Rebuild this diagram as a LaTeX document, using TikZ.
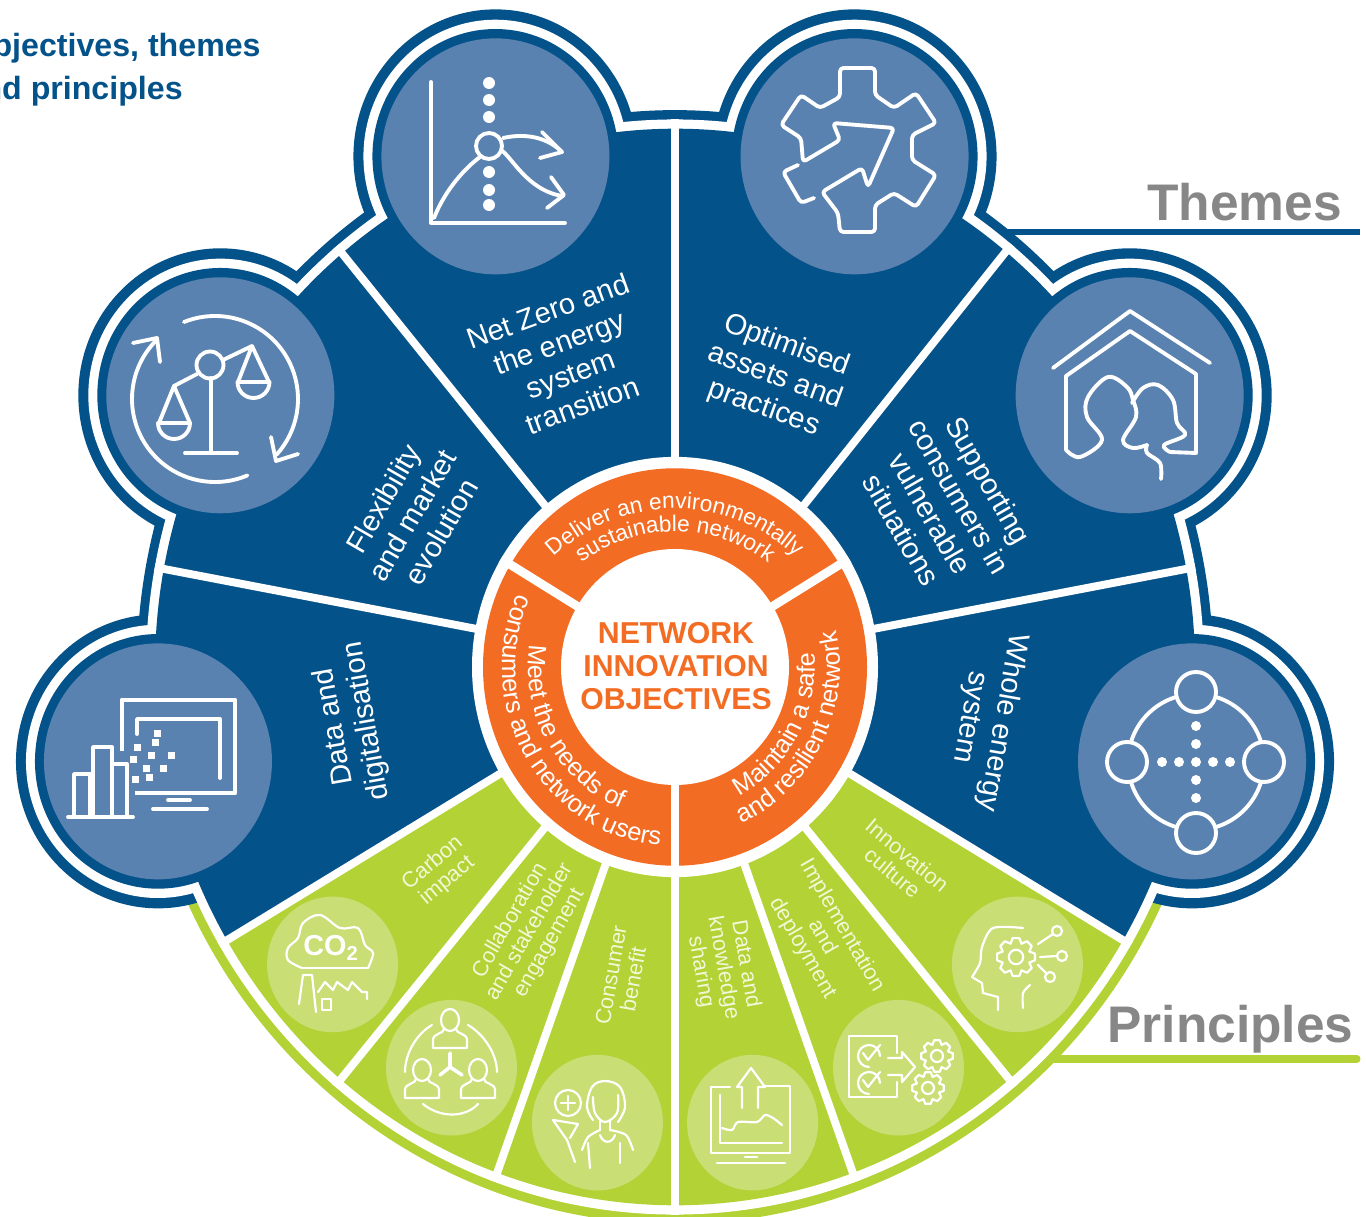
\documentclass[tikz,border=0pt]{standalone}
\usepackage{fontspec}
\setmainfont{Liberation Sans}
\usetikzlibrary{decorations.text}
\definecolor{netblue}{HTML}{04528A}
\definecolor{iconblue}{HTML}{5A82B0}
\definecolor{netorange}{HTML}{F36C24}
\definecolor{leafgreen}{HTML}{B2D235}
\definecolor{paleleaf}{HTML}{C9DE75}
\definecolor{labelgrey}{HTML}{878787}
\definecolor{leaftext}{HTML}{F2F7D6}
\newcommand{\curvedfont}{\fontsize{12.9}{15}\selectfont\color{white}}
\newcommand{\sidefont}{\fontsize{14.4}{16}\selectfont\color{white}}
\tikzset{
    themetext/.style={text=white,align=center,font=\fontsize{16.6}{19}\selectfont},
    leaflabel/.style={text=leaftext,align=center,font=\fontsize{12.4}{12.9}\selectfont},
    sidelabel/.style={text=labelgrey,inner sep=0pt,font=\bfseries\fontsize{29.3}{32}\selectfont,anchor=base west},
    titletext/.style={text=netblue,inner sep=0pt,font=\bfseries\fontsize{18.3}{22}\selectfont,anchor=base east},
    iconline/.style={draw=white,line width=2.2pt,line cap=round,line join=round},
    leafline/.style={draw=white,line width=1.25pt,line cap=round,line join=round},
    cogwheel/.pic={
        \foreach \a in {0,45,...,315}{
            \draw[leafline] (\a-22.5:12) -- (\a-10:16) -- (\a+10:16) -- (\a+22.5:12);
        }
        \draw[leafline] (0,0) circle[radius=6];
    },
    bust/.pic={
        \draw[leafline] (0,0) ellipse[x radius=9,y radius=11];
        \draw[leafline] (-6,9) .. controls (-6,14) and (-17,13) .. (-17,20) -- (-17,28) -- (17,28) -- (17,20) .. controls (17,13) and (6,14) .. (6,9);
    }
}
\begin{document}
\begin{tikzpicture}[x=0.02cm,y=-0.02cm]
    \useasboundingbox (0,0) rectangle (1366,1217);

    % titles and leaders
    \node[titletext] (titleone) at (261,56) {objectives, themes};
    \node[titletext] (titletwo) at (183,99) {and principles};
    \node[sidelabel] (themes) at (1147,220) {Themes};
    \node[sidelabel] (principles) at (1107,1042) {Principles};
    \coordinate (themesstart) at (1005,232);
    \coordinate (themesend) at (1360,232);
    \coordinate (principlesstart) at (1050,1059);
    \coordinate (principlesend) at (1357,1059);
    \draw[netblue,line width=3pt] (themesstart) -- (themesend);
    \draw[leafgreen,line width=4pt,line cap=round] (principlesstart) -- (principlesend);

    % the wheel, drawn from the centre
    \begin{scope}[shift={(675,667)},x=0.02cm,y=0.0207cm]
        \fill[leafgreen] (0,0) -- (190:538) arc[start angle=190,end angle=350,radius=538] -- cycle;
        \fill[netblue] (0,0) -- (-10:538) arc[start angle=-10,end angle=190,radius=538] -- cycle;
        \foreach \a in {-10,30,70,110,150,190} \fill[netblue] (\a:525) circle[radius=142];
        \fill[white] (0,0) circle[radius=529];
        \foreach \a in {-10,30,70,110,150,190} \fill[white] (\a:525) circle[radius=132];
        \fill[leafgreen] (0,0) -- (210.5:520) arc[start angle=210.5,end angle=329.5,radius=520] -- cycle;
        \fill[netblue] (0,0) -- (-30.5:520) arc[start angle=-30.5,end angle=210.5,radius=520] -- cycle;
        \foreach \a in {-10,30,70,110,150,190} \fill[netblue] (\a:525) circle[radius=123];
        \foreach \a in {-30.5,10.5,50.5,90,129.8,169.5,210.5,230,250,270,290,310}
            \draw[white,line width=4.5pt] (0,0) -- (\a:529);
        \foreach \a in {-10,30,70,110,150,190} \fill[iconblue] (\a:525) circle[radius=114];
        \foreach \a in {220,240,260,280,300,320} \fill[paleleaf] (\a:447) circle[radius=65.5];
        \fill[white] (0,0) circle[radius=203];
        \fill[netorange] (0,0) circle[radius=192];
        \foreach \a in {31,149,270} \draw[white,line width=5pt] (0,0) -- (\a:203);
        \fill[white] (0,0) circle[radius=114];
        \path[decorate,decoration={text along path,text align=center,text={|\curvedfont|Deliver an environmentally}}]
            ([shift={(0,-27)}]140:180) arc[start angle=140,end angle=40,radius=180];
        \path[decorate,decoration={text along path,text align=center,text={|\curvedfont|sustainable network}}]
            ([shift={(0,-27)}]140:158) arc[start angle=140,end angle=40,radius=158];
        \path[decorate,decoration={text along path,text align=center,text={|\sidefont|consumers and network users}}]
            (150:173) arc[start angle=150,end angle=271,radius=173];
        \path[decorate,decoration={text along path,text align=center,text={|\sidefont|Meet the needs of}}]
            (165:147) arc[start angle=165,end angle=255,radius=147];
        \path[decorate,decoration={text along path,text align=center,text={|\sidefont|and resilient network}}]
            (-72:165) arc[start angle=-72,end angle=18,radius=165];
        \path[decorate,decoration={text along path,text align=center,text={|\sidefont|Maintain a safe}}]
            (-70:140) arc[start angle=-70,end angle=13,radius=140];
    \end{scope}

    \node[text=netorange,align=center,font=\bfseries\fontsize{17.2}{19}\selectfont] (hub) at (676,666) {NETWORK\\INNOVATION\\OBJECTIVES};

    % themes
    \node[themetext,rotate=20] (netzero) at (565,358) {Net Zero and\\the energy\\system\\transition};
    \node[themetext,rotate=-20] (optimised) at (775,377) {Optimised\\assets and\\practices};
    \node[themetext,rotate=-60] (supporting) at (945,505) {Supporting\\consumers in\\vulnerable\\situations};
    \node[themetext,rotate=60] (flexibility) at (412,515) {Flexibility\\and market\\evolution};
    \node[themetext,rotate=100] (digital) at (351,724) {Data and\\digitalisation};
    \node[themetext,rotate=-100] (whole) at (986,720) {Whole energy\\system};

    % principles
    \node[leaflabel,rotate=40] (carbon) at (440,872) {Carbon\\impact};
    \node[leaflabel,rotate=60] (collab) at (530,932) {Collaboration\\and stakeholder\\engagement};
    \node[leaflabel,rotate=80] (consumer) at (622,977) {Consumer\\benefit};
    \node[leaflabel,rotate=-80] (knowledge) at (723,968) {Data and\\knowledge\\sharing};
    \node[leaflabel,rotate=-60] (deploy) at (822,937) {Implementation\\and\\deployment};
    \node[leaflabel,rotate=-40] (culture) at (900,864) {Innovation\\culture};

    % net zero icon
    \draw[iconline] (431,82) -- (431,223) -- (565,223);
    \foreach \y in {83,100,117,172,190,205} \fill[white] (489,\y) circle[radius=6];
    \draw[iconline] (489,146) circle[radius=13];
    \draw[iconline] (434,218) .. controls (445,190) and (465,168) .. (480,157);
    \draw[iconline] (503,138) .. controls (530,132) and (550,140) .. (562,152);
    \draw[iconline] (542,132) -- (562,152) -- (540,158);
    \draw[iconline] (501,150) .. controls (512,157) and (527,190) .. (562,196);
    \draw[iconline] (551,177) -- (564,195) -- (547,208);

    % optimised icon
    \draw[iconline,rounded corners=2] (840,68) -- (875,68) -- (875,95) -- (894,108) -- (916,93) -- (936,123) -- (912,135) -- (912,160) -- (936,175) -- (916,207) -- (894,193) -- (875,205) -- (875,232) -- (840,232) -- (838,213) -- (822,192) -- (862,168) -- (868,187) -- (894,128) -- (833,123) -- (840,140) -- (803,162) -- (801,138) -- (781,125) -- (801,95) -- (820,108) -- (840,97) -- cycle;
    \draw[iconline,rounded corners=2] (798,165) -- (783,172) -- (801,203) -- (814,198);

    % supporting icon
    \draw[iconline] (1053,368) -- (1130,311) -- (1210,363);
    \draw[iconline] (1066,450) -- (1066,376) -- (1130,331) -- (1196,374) -- (1196,453) -- (1170,452);
    \draw[iconline] plot[smooth,tension=.6] coordinates {(1066,450) (1080,457) (1102,440) (1087,417) (1088,397) (1108,377) (1127,387) (1133,400) (1136,417) (1123,440) (1133,448) (1147,445)};
    \draw[iconline] plot[smooth,tension=.6] coordinates {(1147,445) (1147,453) (1160,463) (1161,479)};
    \draw[iconline] plot[smooth,tension=.6] coordinates {(1132,403) (1143,388) (1158,385) (1173,400) (1177,423) (1185,435) (1164,445) (1170,452)};

    % flexibility icon
    \draw[iconline] (215,399) ++(-112:83) arc[start angle=-112,end angle=42,radius=83];
    \draw[iconline] (215,399) ++(-134.5:83) arc[start angle=-134.5,end angle=-293,radius=83];
    \draw[iconline] (133,343) -- (157,338) -- (160,362);
    \draw[iconline] (271,437) -- (276,461) -- (298,454);
    \draw[iconline] (210,365) circle[radius=13.5];
    \draw[iconline] (210.7,378) -- (210.7,452);
    \draw[iconline] (185,453) -- (237,453);
    \draw[iconline] (197,374) -- (174,386) -- (159,423);
    \draw[iconline] (174,386) -- (190,423);
    \draw[iconline] (223,360) -- (252,346) -- (238,382);
    \draw[iconline] (252,346) -- (269,382);
    \draw[iconline] (158,423) arc[start angle=-180,end angle=-360,radius=16] -- cycle;
    \draw[iconline] (237.5,382) arc[start angle=-180,end angle=-360,radius=16] -- cycle;

    % digitalisation icon
    \draw[iconline,line width=2.8pt,line cap=butt] (122,751) -- (122,700) -- (235,700) -- (235,793) -- (135,793);
    \draw[iconline] (220,778) -- (220,719) -- (137,719) -- (137,734);
    \draw[iconline] (168,800) -- (190,800);
    \draw[iconline] (153,809) -- (207,809);
    \draw[iconline] (68,817) -- (133,817);
    \draw[iconline] (74,817) -- (74,774) -- (90,774) -- (90,817);
    \draw[iconline] (93,817) -- (93,747) -- (112,747) -- (112,817);
    \draw[iconline] (112,764) -- (127,764) -- (127,817);
    \foreach \x/\y in {157/733,155/742,137/747,151/755,171/755,133/759,146/768,163/768,135/779,149/777}
        \fill[white] (\x-3.5,\y-3.5) rectangle (\x+3.5,\y+3.5);

    % whole energy icon
    \draw[iconline] (1196,762) circle[radius=68];
    \foreach \x/\y in {1196/692,1196/833,1127/762,1264/762}
        \filldraw[iconline,fill=iconblue] (\x,\y) circle[radius=20];
    \foreach \d in {-34,-17,17,34} \fill[white] (1196+\d,762) circle[radius=5];
    \foreach \d in {-36,-18,0,18,36} \fill[white] (1196,762+\d) circle[radius=5];

    % carbon icon
    \draw[leafline] plot[smooth,tension=.6] coordinates {(302,968) (288,960) (288,948) (298,938) (303,923) (320,915) (340,928) (358,928) (365,945) (373,953) (368,968)};
    \draw[leafline] (302,968) -- (368,968);
    \node[text=white,font=\bfseries\fontsize{16.4}{18}\selectfont] (cotwo) at (331,948) {CO\textsubscript{2}};
    \draw[leafline] (299,1004) -- (303,975) -- (312,975) -- (316,1012);
    \draw[leafline] (318,992) -- (325,982) -- (333,990) -- (337,982) -- (348,990) -- (352,982) -- (362,992) -- (367,992) -- (367,999);
    \draw[leafline] (322,999) rectangle (331,1010);

    % collaboration icon
    \pic at (450,1020) {bust};
    \pic at (422,1070) {bust};
    \pic at (478,1070) {bust};
    \draw[leafline] (432,1025) .. controls (415,1035) and (405,1055) .. (405,1072);
    \draw[leafline] (468,1025) .. controls (485,1035) and (497,1055) .. (497,1072);
    \draw[leafline] (423,1104) .. controls (440,1118) and (465,1118) .. (478,1104);
    \draw[leafline,line width=2pt] (450,1053) -- (450,1067) -- (440,1075);
    \draw[leafline,line width=2pt] (450,1067) -- (462,1075);

    % consumer icon
    \draw[leafline] (568,1103) circle[radius=13];
    \draw[leafline] (561,1103) -- (575,1103);
    \draw[leafline] (568,1096) -- (568,1110);
    \draw[leafline] plot[smooth,tension=.6] coordinates {(593,1120) (587,1107) (592,1087) (605,1081) (620,1087) (625,1107) (618,1122)};
    \draw[leafline] plot[smooth,tension=.6] coordinates {(593,1097) (595,1113) (605,1122) (617,1113) (618,1095)};
    \draw[leafline] (600,1121) -- (600,1130);
    \draw[leafline] (610,1121) -- (610,1130);
    \draw[leafline] plot[smooth] coordinates {(582,1150) (588,1137) (600,1130)};
    \draw[leafline] plot[smooth] coordinates {(610,1130) (626,1135) (633,1150)};
    \draw[leafline] (600,1135) .. controls (603,1144) and (612,1144) .. (615,1135);
    \draw[leafline] (588,1143) -- (590,1168);
    \draw[leafline] (620,1143) -- (620,1163);
    \draw[leafline] (553,1120) -- (567,1140) -- (575,1162);
    \draw[leafline] (553,1120) -- (578,1124) -- (570,1138);

    % knowledge icon
    \draw[leafline] (730,1087) -- (711,1087) -- (711,1153) -- (790,1153) -- (790,1086) -- (765,1086);
    \draw[leafline] (742,1108) -- (742,1087) -- (737,1087) -- (751,1068) -- (765,1087) -- (758,1087) -- (758,1108);
    \draw[leafline] (720,1095) -- (720,1143) -- (782,1143);
    \draw[leafline] plot[smooth,tension=.5] coordinates {(722,1128) (732,1130) (738,1122) (757,1122) (765,1115) (773,1118) (782,1125)};
    \draw[leafline] (717,1163) -- (785,1163);
    \draw[leafline] (745,1157) -- (757,1157);

    % deployment icon
    \draw[leafline] (897,1053) -- (897,1036) -- (849,1036) -- (849,1097) -- (897,1097) -- (897,1082);
    \draw[leafline] (888,1058) -- (902,1058) -- (902,1052) -- (915,1067) -- (902,1082) -- (902,1075) -- (888,1075);
    \draw[leafline] (880,1056) arc[start angle=0,end angle=-270,radius=11];
    \draw[leafline] (880,1083) arc[start angle=0,end angle=-270,radius=11];
    \draw[leafline] (863,1053) -- (868,1060) -- (880,1045);
    \draw[leafline] (863,1080) -- (868,1087) -- (880,1072);
    \pic at (937,1056) {cogwheel};
    \pic at (928,1088) {cogwheel};

    % culture icon
    \pic[scale=1.2] at (1016,957) {cogwheel};
    \draw[leafline] plot[smooth,tension=.5] coordinates {(1023,928) (993,928) (982,947) (980,963) (972,977)};
    \draw[leafline] (972,977) -- (982,983) -- (983,993) -- (998,997) -- (998,1010);
    \draw[leafline] plot[smooth] coordinates {(1030,985) (1023,993) (1023,1008)};
    \draw[leafline] (1038,944) -- (1053,934);
    \draw[leafline] (1040,957) -- (1057,956);
    \draw[leafline] (1038,965) -- (1047,974);
    \draw[leafline] (1057,931) circle[radius=5];
    \draw[leafline] (1062,956) circle[radius=5];
    \draw[leafline] (1050,977) circle[radius=5];
\end{tikzpicture}
\end{document}
